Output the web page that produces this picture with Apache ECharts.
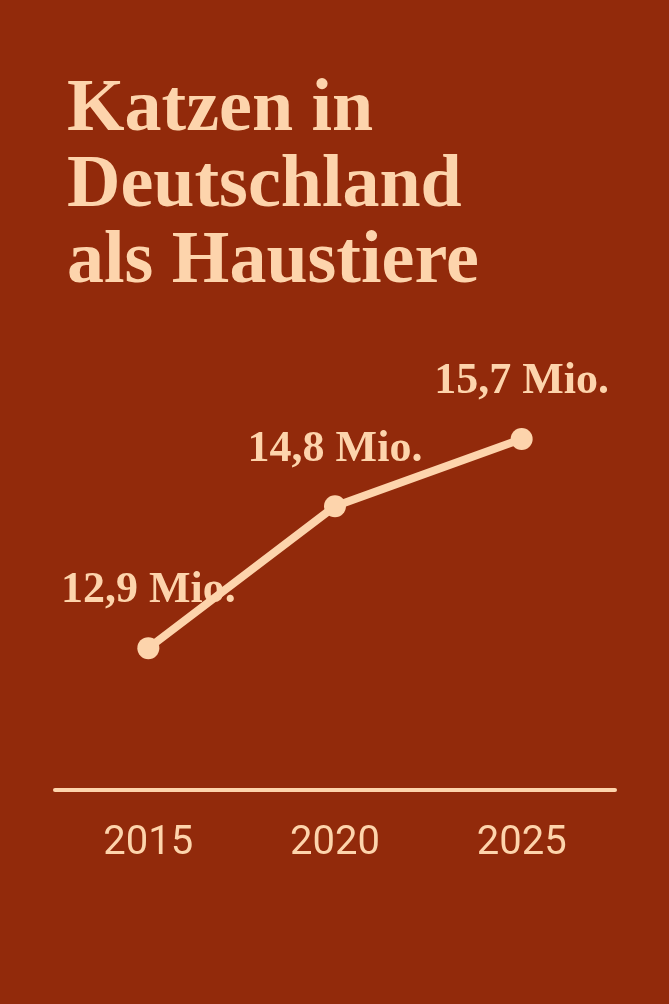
<!DOCTYPE html>
<html>
<head>
<meta charset="utf-8">
<title>Katzen in Deutschland</title>
<script src="https://cdn.jsdelivr.net/npm/echarts@6/dist/echarts.min.js"></script>
<style>
	html, body { margin: 0; padding: 0; background: #922a0b; }
	#chart { width: 669px; height: 1004px; }
</style>
</head>
<body>
<div id="chart"></div>
<script>
	// daten
	var years = ['2015', '2020', '2025'];
	var cats = [12.9, 14.8, 15.7];
	var labels = ['12,9 Mio.', '14,8 Mio.', '15,7 Mio.'];

	var bg = '#922a0b', cream = '#fdd4ac';

	var myChart = echarts.init(document.getElementById('chart'));

	myChart.setOption({
		backgroundColor: bg,
		animation: false,
		title: {
			text: 'Katzen in\nDeutschland\nals Haustiere',
			left: 62,
			top: 68,
			textStyle: {
				color: cream,
				fontFamily: 'Liberation Serif',
				fontWeight: 'bold',
				fontSize: 74,
				lineHeight: 76
			}
		},
		grid: { left: 55, right: 54, top: 342, bottom: 214 },
		xAxis: {
			type: 'category',
			data: years,
			boundaryGap: true,
			axisLine: { lineStyle: { color: cream, width: 4 } },
			axisTick: { show: false },
			axisLabel: {
				color: cream,
				fontFamily: 'Roboto',
				fontSize: 40,
				margin: 34
			}
		},
		yAxis: {
			type: 'value',
			min: 11,
			max: 17,
			show: false,
			splitLine: { show: false }
		},
		series: [{
			type: 'line',
			data: cats,
			symbol: 'circle',
			symbolSize: 22,
			lineStyle: { color: cream, width: 8 },
			itemStyle: { color: cream },
			label: {
				show: true,
				position: 'top',
				distance: 24,
				color: cream,
				fontFamily: 'Liberation Serif',
				fontWeight: 'bold',
				fontSize: 44,
				formatter: function (p) {
					return labels[p.dataIndex];
				}
			}
		}]
	});
</script>
</body>
</html>
